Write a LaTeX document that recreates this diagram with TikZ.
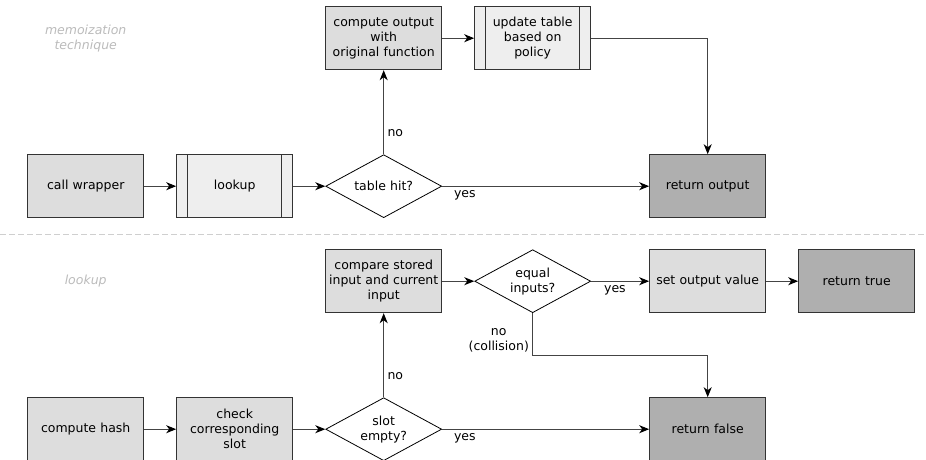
\documentclass[tikz,border=0pt]{standalone}
\usepackage{fontspec}
\setmainfont{DejaVu Sans}
\usepackage{tikz}
\usetikzlibrary{matrix,shapes,arrows.meta,positioning}
\definecolor{boxline}{HTML}{333333}
\definecolor{lightfill}{HTML}{DDDDDD}
\definecolor{paler}{HTML}{EEEEEE}
\definecolor{darkfill}{HTML}{AFAFAF}
\definecolor{linegray}{HTML}{444444}
\definecolor{titlegray}{HTML}{BBBBBB}
\tikzset{
proc/.style={
    rectangle,
    draw=boxline,
    fill=lightfill,
    line width=1pt,
    text width=112pt,
    minimum height=63pt,
    inner sep=2pt,
    text centered
},
subproc/.style={
    proc,
    fill=paler,
    path picture={
        \draw[boxline, line width=1pt]
            ([xshift=11pt]path picture bounding box.north west) -- ([xshift=11pt]path picture bounding box.south west)
            ([xshift=-11pt]path picture bounding box.north east) -- ([xshift=-11pt]path picture bounding box.south east);
    }
},
result/.style={
    proc,
    fill=darkfill
},
decision/.style={
    diamond,
    draw=black,
    fill=white,
    line width=0.8pt,
    text width=60pt,
    text centered,
    aspect=1.84,
    minimum width=116pt,
    minimum height=63pt,
    inner sep=0pt
},
caption/.style={
    text=titlegray,
    font=\fontsize{12.5}{15}\selectfont\itshape,
    text width=117pt,
    text centered,
    inner sep=0pt
},
connector/.style={
    -{Stealth[length=10pt,width=8pt,inset=3pt,color=black]},
    draw=linegray,
    line width=1pt
},
separator/.style={
    draw=titlegray!70,
    line width=1pt,
    dash pattern=on 6pt off 3pt
}
}
\begin{document}
\begin{tikzpicture}[font=\fontsize{12.5}{15}\selectfont]
\useasboundingbox (0,0) rectangle (926pt,-460pt);
\matrix (m)[matrix of nodes, column sep=32pt, row sep=84pt, inner sep=0pt, anchor=north west, nodes={anchor=center}] at (27pt,-6pt) {
|[caption]| {memoization\\technique} & & |[proc]| {compute output\\with\\original function} & |[subproc]| {update table\\based on\\policy} &[26pt] & \\
|[proc]| {call wrapper} & |[subproc]| {lookup} & |[decision]| {table hit?} & & |[result]| {return output} & \\[-53pt]
|[caption]| {lookup} & & |[proc]| {compare stored\\input and current\\input} & |[decision]| {equal\\inputs?} & |[proc]| {set output value} & |[result]| {return true} \\
|[proc]| {compute hash} & |[proc]| {check\\corresponding\\slot} & |[decision]| {slot\\empty?} & & |[result]| {return false} & \\
};

\draw [separator] (0,-234pt) -- (926pt,-234pt);

% memoization technique
\path [connector] (m-2-1) edge (m-2-2);
\path [connector] (m-2-2) edge (m-2-3);
\path [connector] (m-2-3) edge node[pos=0.25, right] {no} (m-1-3);
\path [connector] (m-2-3) edge node[pos=0.11, below] {yes} (m-2-5);
\path [connector] (m-1-3) edge (m-1-4);
\draw [connector] (m-1-4) -| (m-2-5);

% lookup
\path [connector] (m-4-1) edge (m-4-2);
\path [connector] (m-4-2) edge (m-4-3);
\path [connector] (m-4-3) edge node[pos=0.25, right] {no} (m-3-3);
\path [connector] (m-4-3) edge node[pos=0.11, below] {yes} (m-4-5);
\path [connector] (m-3-3) edge (m-3-4);
\path [connector] (m-3-4) edge node[pos=0.41, below] {yes} (m-3-5);
\path [connector] (m-3-5) edge (m-3-6);
\draw [connector] (m-3-4.south) -- node[pos=0.64, left, align=center] {no\\(collision)} ++(0,-42pt) -| (m-4-5);

\end{tikzpicture}
\end{document}
